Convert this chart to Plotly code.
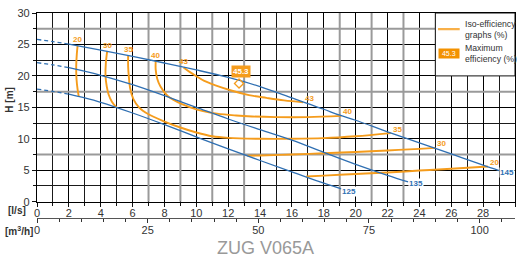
import plotly.graph_objects as go

# ---------------- data ----------------
# Pump characteristic curves (impeller diameter, mm): flow [l/s], head [m]
imp_labels = ["145", "135", "125"]
imp145_flow = [0, 1, 2, 4, 6, 8, 10, 12, 14, 16, 17, 18, 19, 20, 22, 24, 26, 28, 29]
imp145_head = [25.8, 25.45, 25.05, 24.1, 23.1, 22.05, 20.95, 19.75, 18.3, 16.5, 15.6, 14.7, 13.75, 12.95, 11.1, 9.35, 7.6, 5.8, 4.95]
imp135_flow = [0, 1, 2, 4, 6, 8, 10, 12, 14, 16, 18, 20, 22, 23.3]
imp135_head = [22.1, 21.75, 21.3, 20.1, 18.6, 16.85, 15.0, 13.15, 11.45, 9.8, 7.85, 5.95, 4.2, 3.15]
imp125_flow = [0, 1, 2, 3, 4, 6, 8, 10, 12, 14, 16, 18, 19.1]
imp125_head = [17.9, 17.55, 17.1, 16.5, 15.8, 14.1, 12.25, 10.3, 8.4, 6.55, 4.75, 2.95, 2.05]

# Iso-efficiency curves (%)
eff20a_flow = [2.55, 2.5, 2.46, 2.48, 2.55, 2.62]
eff20a_head = [24.8, 23.5, 21.5, 19.5, 17.8, 16.75]
eff20b_flow = [16.9, 18, 20, 22, 24, 26, 28.3]
eff20b_head = [4.0, 4.15, 4.4, 4.65, 4.95, 5.25, 5.6]
eff30a_flow = [4.4, 4.32, 4.3, 4.38, 4.5, 4.7, 5.0]
eff30a_head = [23.85, 22.0, 20.0, 18.3, 17.0, 15.9, 14.95]
eff30b_flow = [13.2, 14, 16, 18, 20, 22, 24, 25.0]
eff30b_head = [7.3, 7.35, 7.5, 7.7, 7.9, 8.15, 8.4, 8.55]
eff35_flow = [5.72, 5.72, 5.76, 5.85, 6.05, 6.4, 7.0, 8.0, 9.0, 10.0, 11.0, 12.0, 14.0, 16.0, 18.0, 20.0, 22.2]
eff35_head = [23.2, 21.5, 20.0, 18.0, 16.3, 15.0, 13.9, 12.75, 11.8, 11.0, 10.4, 10.15, 10.0, 10.0, 10.1, 10.4, 10.9]
eff40_flow = [7.45, 7.45, 7.55, 7.75, 8.2, 9.1, 10.1, 11.3, 12.5, 13.5, 15, 17, 19.1]
eff40_head = [22.35, 21.0, 19.5, 18.3, 16.8, 15.5, 14.6, 14.0, 13.7, 13.55, 13.45, 13.45, 13.65]
eff43_flow = [9.2, 9.6, 10.0, 10.5, 11.2, 12.3, 13.3, 14.4, 15.5, 16.7]
eff43_head = [21.35, 20.6, 19.95, 19.2, 18.5, 17.6, 16.95, 16.5, 16.1, 15.8]

# Maximum efficiency point
max_flow = [12.68]
max_head = [18.8]
max_eff = [45.3]

# Axis ticks
flow_ticks = [0, 2, 4, 6, 8, 10, 12, 14, 16, 18, 20, 22, 24, 26, 28, 30]
head_ticks = [0, 5, 10, 15, 20, 25, 30]
m3h_ticks = [0, 25, 50, 75, 100]
gray_x = [7, 9, 11, 13, 19, 21, 23]
gray_y = [7.5, 17.5, 27.5]

# ---------------- style ----------------
BLUE = "#2f6fb2"
ORANGE = "#f59c1c"
FONT = "Liberation Sans, Arial, sans-serif"

fig = go.Figure()


def pump_curve(flow, head, label, yshift):
    cut = max(i for i, f in enumerate(flow) if f <= 2)
    fig.add_trace(go.Scatter(x=flow[:cut + 1], y=head[:cut + 1], mode="lines",
                             line=dict(color=BLUE, width=1.3, dash="4px,3px", shape="spline"),
                             showlegend=False, hoverinfo="skip"))
    fig.add_trace(go.Scatter(x=flow[cut:], y=head[cut:], mode="lines",
                             line=dict(color=BLUE, width=1.3, shape="spline"),
                             showlegend=False, hoverinfo="skip"))
    fig.add_annotation(x=flow[-1], y=head[-1], text="<b>%s</b>" % label, showarrow=False,
                       xanchor="left", yanchor="middle", yshift=yshift, bgcolor="white",
                       borderpad=0, font=dict(family=FONT, size=8, color=BLUE))


def eff_label(x, y, label, start):
    if start:
        fig.add_annotation(x=x, y=y, text="<b>%s</b>" % label, showarrow=False,
                           xanchor="center", yanchor="middle", yshift=6,
                           font=dict(family=FONT, size=8, color=ORANGE))
    else:
        fig.add_annotation(x=x, y=y, text="<b>%s</b>" % label, showarrow=False,
                           xanchor="left", yanchor="middle", yshift=4,
                           font=dict(family=FONT, size=8, color=ORANGE))


def eff_curve(flow, head):
    fig.add_trace(go.Scatter(x=flow, y=head, mode="lines",
                             line=dict(color=ORANGE, width=1.9, shape="spline"),
                             showlegend=False, hoverinfo="skip"))


for fl, hd, lab, s, e in [
    (eff20a_flow, eff20a_head, "20", True, False),
    (eff20b_flow, eff20b_head, "20", False, True),
    (eff30a_flow, eff30a_head, "30", True, False),
    (eff30b_flow, eff30b_head, "30", False, True),
    (eff35_flow, eff35_head, "35", True, True),
    (eff40_flow, eff40_head, "40", True, True),
    (eff43_flow, eff43_head, "43", True, True),
]:
    eff_curve(fl, hd)
    if s:
        eff_label(fl[0], hd[0], lab, True)
    if e:
        eff_label(fl[-1], hd[-1], lab, False)

pump_curve(imp145_flow, imp145_head, imp_labels[0], -1.5)
pump_curve(imp135_flow, imp135_head, imp_labels[1], -2)
pump_curve(imp125_flow, imp125_head, imp_labels[2], -3)

# max efficiency marker and label
fig.add_trace(go.Scatter(x=max_flow, y=max_head, mode="markers",
                         marker=dict(symbol="diamond-open", size=7, color=ORANGE, line=dict(width=1.3)),
                         showlegend=False, hoverinfo="skip"))
fig.add_annotation(x=max_flow[0], y=max_head[0], text="<b>%.1f</b>" % max_eff[0], showarrow=False,
                   xanchor="center", yanchor="bottom", yshift=5, xshift=2, bgcolor=ORANGE, borderpad=1,
                   font=dict(family=FONT, size=8, color="white"))

# invisible trace to carry the m3/h axis
fig.add_trace(go.Scatter(x=[0, 108], y=[-5, -5], xaxis="x2", yaxis="y", mode="lines",
                         line=dict(width=0), showlegend=False, hoverinfo="skip"))

# grid accents and legend box
shapes = []
for gx in gray_x:
    shapes.append(dict(type="line", xref="x", yref="y", x0=gx, x1=gx, y0=0, y1=30,
                       line=dict(color="#9a9a9a", width=2), layer="between"))
for gy in gray_y:
    shapes.append(dict(type="line", xref="x", yref="y", x0=0, x1=30, y0=gy, y1=gy,
                       line=dict(color="#9a9a9a", width=2), layer="between"))
shapes.append(dict(type="rect", xref="x", yref="y", x0=25, x1=30, y0=20, y1=30,
                   fillcolor="white", line=dict(color="#111", width=1), layer="between"))
shapes.append(dict(type="line", xref="x", yref="y", x0=25.17, x1=26.53, y0=27.45, y1=27.45,
                   line=dict(color="#f8b04a", width=2.2), layer="above"))
fig.update_layout(shapes=shapes)

LEG_FONT = dict(family=FONT, size=8.7, color="#333")
fig.add_annotation(x=26.72, y=27.35, xref="x", yref="y", text="Iso-efficiency<br>graphs (%)",
                   showarrow=False, xanchor="left", yanchor="middle", align="left", font=LEG_FONT)
fig.add_annotation(x=26.72, y=23.6, xref="x", yref="y", text="Maximum<br>efficiency (%)",
                   showarrow=False, xanchor="left", yanchor="middle", align="left", font=LEG_FONT)
fig.add_annotation(x=25.85, y=23.55, xref="x", yref="y", text=" %.1f " % max_eff[0],
                   showarrow=False, xanchor="center", yanchor="middle", bgcolor="#f39200", borderpad=1,
                   font=dict(family=FONT, size=7, color="white"))

# axis labels
fig.add_annotation(x=-0.042, y=0.128, xref="paper", yref="paper", text="<b>[l/s]</b>",
                   xanchor="center", yanchor="middle",
                   showarrow=False, font=dict(family=FONT, size=10, color="#333"))
fig.add_annotation(x=-0.038, y=0.040, xref="paper", yref="paper", text="<b>[m<sup>3</sup>/h]</b>",
                   xanchor="center", yanchor="middle",
                   showarrow=False, font=dict(family=FONT, size=10, color="#333"))
fig.add_annotation(x=-0.057, y=0.617, xref="paper", yref="paper", text="<b>H [m]</b>", textangle=-90,
                   xanchor="center", yanchor="middle",
                   showarrow=False, font=dict(family=FONT, size=10, color="#333"))
fig.add_annotation(x=0.477, y=-0.036, xref="paper", yref="paper", text="ZUG V065A",
                   xanchor="center", yanchor="middle",
                   showarrow=False, font=dict(family=FONT, size=18, color="#999"))

fig.update_layout(
    width=518, height=260, autosize=False,
    margin=dict(l=37, r=3, t=13, b=20, autoexpand=False),
    paper_bgcolor="white", plot_bgcolor="white",
    xaxis=dict(range=[0, 30], domain=[0, 1], anchor="y", tickvals=flow_ticks, automargin=False,
               showline=True, linecolor="#000", linewidth=1.3, mirror=True,
               ticks="outside", ticklen=4, tickcolor="#111", ticklabelstandoff=-3,
               showgrid=True, gridcolor="#000", gridwidth=1.3, zeroline=False,
               minor=dict(dtick=1, tick0=0, ticks="outside", ticklen=3, tickcolor="#111",
                          showgrid=True, gridcolor="#1a1a1a", gridwidth=1),
               tickfont=dict(family=FONT, size=11, color="#333")),
    yaxis=dict(range=[0, 30], domain=[0.1687, 1], anchor="x", tickvals=head_ticks, automargin=False,
               showline=True, linecolor="#000", linewidth=1.3, mirror=True,
               ticks="outside", ticklen=4, tickcolor="#111",
               showgrid=True, gridcolor="#000", gridwidth=1.4, zeroline=False,
               minor=dict(dtick=2.5, tick0=0, ticks="outside", ticklen=3, tickcolor="#111",
                          showgrid=True, gridcolor="#1a1a1a", gridwidth=1),
               tickfont=dict(family=FONT, size=11, color="#333")),
    xaxis2=dict(range=[0, 108], overlaying="x", anchor="free", position=0.097, side="bottom",
                automargin=False, ticklabelstandoff=-2,
                tickvals=m3h_ticks, showline=True, linecolor="#555", linewidth=1.2,
                ticks="outside", ticklen=4, tickcolor="#333", showgrid=False, zeroline=False,
                minor=dict(dtick=5, tick0=0, ticks="outside", ticklen=3, tickcolor="#333", showgrid=False),
                tickfont=dict(family=FONT, size=11, color="#333")),
)

fig.write_html("out.html", config={"displayModeBar": False},
               post_script="document.body.style.margin='0px';")
